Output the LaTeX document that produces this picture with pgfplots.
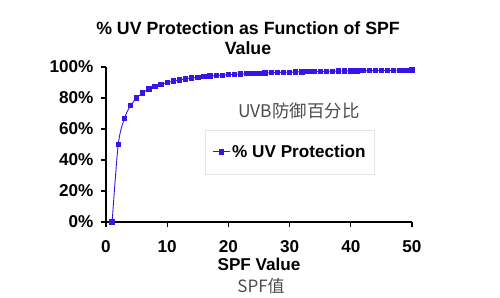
\documentclass[border=0pt]{standalone}
\usepackage{pgfplots}
\pgfplotsset{compat=1.18}
\usepackage{fontspec}
\setmainfont{Liberation Sans}
\newfontfamily\cjk{Noto Sans CJK SC}
\definecolor{uvblue}{RGB}{58,20,230}
\begin{document}
\begin{tikzpicture}
\path (0,0) rectangle (500bp,298bp);
\begin{axis}[
  at={(106bp,76bp)}, anchor=south west,
  scale only axis, width=306bp, height=155bp,
  xmin=0, xmax=50, ymin=0, ymax=100,
  axis x line*=bottom, axis y line*=left,
  axis line style={line width=1.3bp, -},
  xtick={0,10,20,30,40,50}, ytick={0,20,40,60,80,100},
  yticklabel={\pgfmathprintnumber{\tick}\%},
  tick align=outside, major tick length=5bp,
  tick style={line width=1.2bp, black},
  ticklabel style={font=\fontsize{17.2}{19}\selectfont\bfseries},
  xticklabel style={yshift=-10bp},
  yticklabel style={xshift=-4bp},
  /pgf/number format/assume math mode=true,
  xlabel={\bfseries SPF Value}, xlabel style={font=\fontsize{17.2}{19}\selectfont, yshift=1bp},
  clip=false,
  legend style={at={(0.601,0.452)}, anchor=center, draw=black!10, line width=0.6bp,
    font=\fontsize{17.2}{19}\selectfont\bfseries, inner xsep=7bp, inner ysep=13bp},
  legend cell align=left,
]
\addplot[color=uvblue, line width=0.9bp, smooth, mark=square*, mark size=2.2bp, mark options={solid, fill=uvblue}] coordinates {
(1,0) (2,50) (3,66.67) (4,75) (5,80) (6,83.33) (7,85.71) (8,87.5) (9,88.89) (10,90)
(11,90.91) (12,91.67) (13,92.31) (14,92.86) (15,93.33) (16,93.75) (17,94.12) (18,94.44) (19,94.74) (20,95)
(21,95.24) (22,95.45) (23,95.65) (24,95.83) (25,96) (26,96.15) (27,96.30) (28,96.43) (29,96.55) (30,96.67)
(31,96.77) (32,96.88) (33,96.97) (34,97.06) (35,97.14) (36,97.22) (37,97.30) (38,97.37) (39,97.44) (40,97.5)
(41,97.56) (42,97.62) (43,97.67) (44,97.73) (45,97.78) (46,97.83) (47,97.87) (48,97.92) (49,97.96) (50,98)
};
\addlegendentry{\% UV Protection}
\end{axis}
\node[font=\fontsize{17.8}{20}\selectfont\bfseries, align=center] at (248bp,260bp) {\% UV Protection as Function of SPF\\Value};
\node[font=\cjk\fontsize{17.5}{19}\selectfont, text=black!70] at (299bp,187bp) {UVB防御百分比};
\node[font=\cjk\fontsize{17}{19}\selectfont, text=black!70] at (261bp,12bp) {SPF值};
\end{tikzpicture}
\end{document}
